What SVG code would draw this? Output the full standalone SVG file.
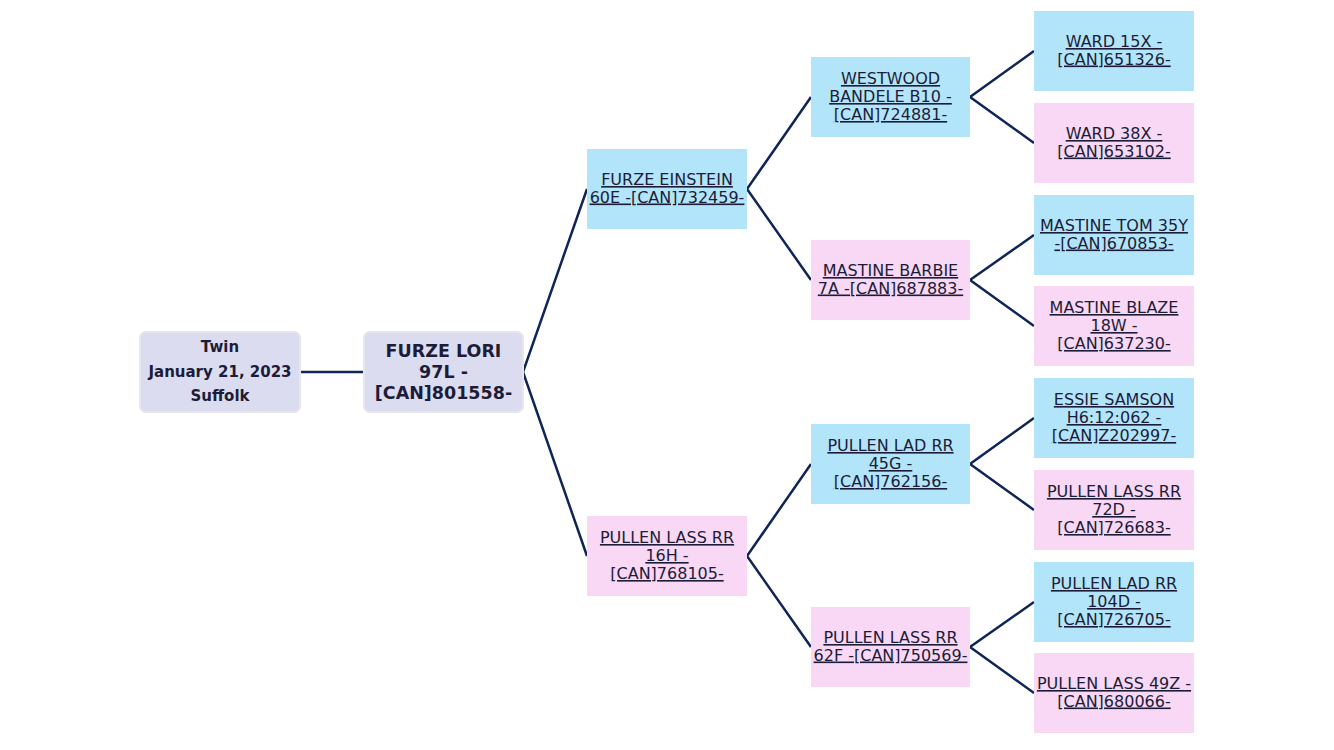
<svg xmlns="http://www.w3.org/2000/svg" width="1334" height="750" viewBox="0 0 1334 750">
<style>
.bg{fill:#ffffff}
.root{fill:#dcdcf0;stroke:#e6e6ee;stroke-width:2}
.m{fill:#b3e5fa}
.f{fill:#f8d8f4}
.t{font-family:"DejaVu Sans",sans-serif;font-size:16px;fill:#1c1c38;text-anchor:middle;text-decoration:underline}
.b{font-family:"DejaVu Sans",sans-serif;font-weight:bold;font-size:15px;fill:#1c1c38;text-anchor:middle}
.bb{font-family:"DejaVu Sans",sans-serif;font-weight:bold;font-size:17.5px;fill:#1c1c38;text-anchor:middle}
.c{stroke:#0f2557;stroke-width:2.5;fill:none}
</style>
<rect class="bg" x="0" y="0" width="1334" height="750"/>
<g id="connectors">
<path class="c" d="M300,372 H364"/>
<path class="c" d="M587,189 L523,372 L587,556"/>
<path class="c" d="M811,97 L747,189 L811,280"/>
<path class="c" d="M811,464 L747,556 L811,647"/>
<path class="c" d="M1034,51 L970,97 L1034,143"/>
<path class="c" d="M1034,235 L970,280 L1034,326"/>
<path class="c" d="M1034,418 L970,464 L1034,510"/>
<path class="c" d="M1034,602 L970,647 L1034,693"/>
</g>
<g id="info">
<rect class="root" x="140" y="332" width="160" height="80" rx="6"/>
<text class="b" x="220" y="352">Twin</text>
<text class="b" x="220" y="377">January 21, 2023</text>
<text class="b" x="220" y="401">Suffolk</text>
</g>
<g id="subject">
<rect class="root" x="364" y="332" width="159" height="80" rx="6"/>
<text class="bb" x="443.5" y="357">FURZE LORI</text>
<text class="bb" x="443.5" y="378">97L -</text>
<text class="bb" x="443.5" y="399">[CAN]801558-</text>
</g>
<g id="sire">
<rect class="m" x="587" y="149" width="160" height="80"/>
<text class="t" x="667" y="185">FURZE EINSTEIN</text>
<text class="t" x="667" y="202.5">60E -[CAN]732459-</text>
</g>
<g id="dam">
<rect class="f" x="587" y="516" width="160" height="80"/>
<text class="t" x="667" y="543">PULLEN LASS RR</text>
<text class="t" x="667" y="561">16H -</text>
<text class="t" x="667" y="579">[CAN]768105-</text>
</g>
<g id="ss">
<rect class="m" x="811" y="57" width="159" height="80"/>
<text class="t" x="890.5" y="84">WESTWOOD</text>
<text class="t" x="890.5" y="102">BANDELE B10 -</text>
<text class="t" x="890.5" y="120">[CAN]724881-</text>
</g>
<g id="sd">
<rect class="f" x="811" y="240" width="159" height="80"/>
<text class="t" x="890.5" y="276">MASTINE BARBIE</text>
<text class="t" x="890.5" y="293.5">7A -[CAN]687883-</text>
</g>
<g id="ds">
<rect class="m" x="811" y="424" width="159" height="80"/>
<text class="t" x="890.5" y="451">PULLEN LAD RR</text>
<text class="t" x="890.5" y="469">45G -</text>
<text class="t" x="890.5" y="487">[CAN]762156-</text>
</g>
<g id="dd">
<rect class="f" x="811" y="607" width="159" height="80"/>
<text class="t" x="890.5" y="643">PULLEN LASS RR</text>
<text class="t" x="890.5" y="660.5">62F -[CAN]750569-</text>
</g>
<g id="sss">
<rect class="m" x="1034" y="11" width="160" height="80"/>
<text class="t" x="1114" y="47">WARD 15X -</text>
<text class="t" x="1114" y="64.5">[CAN]651326-</text>
</g>
<g id="ssd">
<rect class="f" x="1034" y="103" width="160" height="80"/>
<text class="t" x="1114" y="139">WARD 38X -</text>
<text class="t" x="1114" y="156.5">[CAN]653102-</text>
</g>
<g id="sds">
<rect class="m" x="1034" y="195" width="160" height="80"/>
<text class="t" x="1114" y="231">MASTINE TOM 35Y</text>
<text class="t" x="1114" y="248.5">-[CAN]670853-</text>
</g>
<g id="sdd">
<rect class="f" x="1034" y="286" width="160" height="80"/>
<text class="t" x="1114" y="313">MASTINE BLAZE</text>
<text class="t" x="1114" y="331">18W -</text>
<text class="t" x="1114" y="349">[CAN]637230-</text>
</g>
<g id="dss">
<rect class="m" x="1034" y="378" width="160" height="80"/>
<text class="t" x="1114" y="405">ESSIE SAMSON</text>
<text class="t" x="1114" y="423">H6:12:062 -</text>
<text class="t" x="1114" y="441">[CAN]Z202997-</text>
</g>
<g id="dsd">
<rect class="f" x="1034" y="470" width="160" height="80"/>
<text class="t" x="1114" y="497">PULLEN LASS RR</text>
<text class="t" x="1114" y="515">72D -</text>
<text class="t" x="1114" y="533">[CAN]726683-</text>
</g>
<g id="dds">
<rect class="m" x="1034" y="562" width="160" height="80"/>
<text class="t" x="1114" y="589">PULLEN LAD RR</text>
<text class="t" x="1114" y="607">104D -</text>
<text class="t" x="1114" y="625">[CAN]726705-</text>
</g>
<g id="ddd">
<rect class="f" x="1034" y="653" width="160" height="80"/>
<text class="t" x="1114" y="689">PULLEN LASS 49Z -</text>
<text class="t" x="1114" y="706.5">[CAN]680066-</text>
</g>
</svg>
